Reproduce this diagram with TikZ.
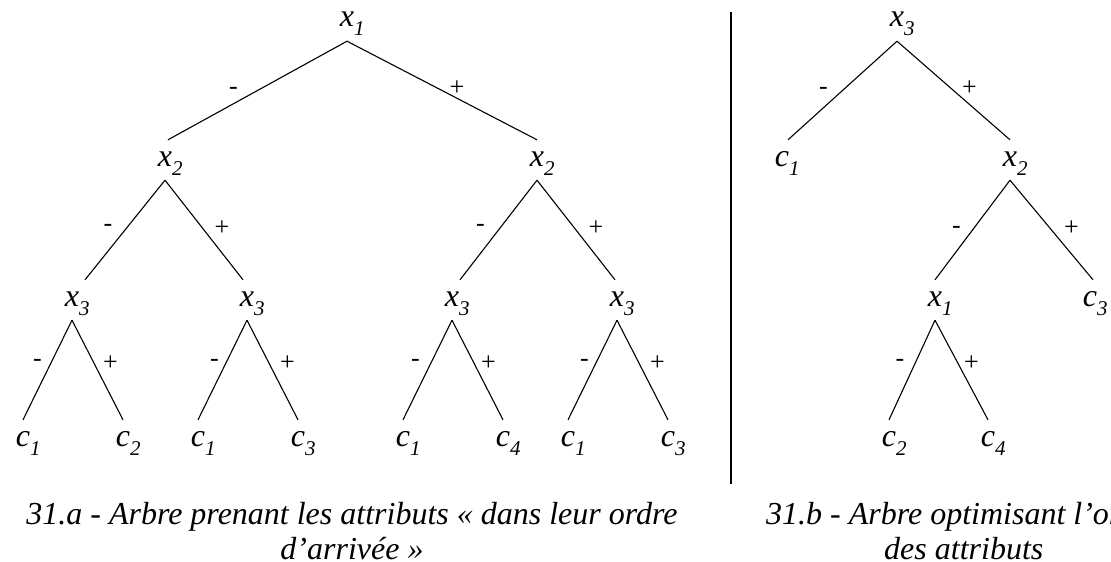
\documentclass[tikz,border=0pt]{standalone}
\usepackage{fontspec}
\setmainfont{Liberation Serif}[ItalicFont={Liberation Serif Italic}]
\newcommand{\lbl}[2]{#1\rlap{\smash{\raisebox{-9pt}{\fontsize{21}{21}\selectfont #2}}}}
\newcommand{\capA}{\vtop{\baselineskip=35pt\lineskiplimit=-100pt\halign{\hfil##\hfil\cr
  31.a - Arbre prenant les attributs « dans leur ordre\cr d’arrivée »\cr}}}
\newcommand{\capB}{\vtop{\baselineskip=35pt\lineskiplimit=-100pt\halign{##\hfil\cr
  31.b - Arbre optimisant l’or\cr \hskip118pt des attributs\cr}}}
\begin{document}
\begin{tikzpicture}[x=1pt,y=-1pt,
  tn/.style={font=\fontsize{32}{32}\selectfont\itshape, inner xsep=0pt, inner ysep=14pt,
             text height=12pt, text depth=0pt, anchor=base},
  ed/.style={line width=1.1pt},
  lab/.style 2 args={midway, font=\fontsize{26}{26}\selectfont, inner sep=0pt, xshift=#1pt, yshift=#2pt},
  captxt/.style={font=\fontsize{32}{35}\selectfont\itshape, inner sep=0pt},
  sepline/.style={line width=2pt}]
\fill[white] (0,0) rectangle (1111,562);
\useasboundingbox (0,0) rectangle (1111,562);

% left tree
\node[tn] (L1)  at (347,27)  {\lbl{x}{1}};
\node[tn] (L2a) at (165,166) {\lbl{x}{2}};
\node[tn] (L2b) at (537,166) {\lbl{x}{2}};
\node[tn] (L3a) at (72,306)  {\lbl{x}{3}};
\node[tn] (L3b) at (247,306) {\lbl{x}{3}};
\node[tn] (L3c) at (452,306) {\lbl{x}{3}};
\node[tn] (L3d) at (617,306) {\lbl{x}{3}};
\node[tn] (La1) at (23,446)  {\lbl{c}{1}};
\node[tn] (La2) at (123,446) {\lbl{c}{2}};
\node[tn] (Lb1) at (198,446) {\lbl{c}{1}};
\node[tn] (Lb2) at (298,446) {\lbl{c}{3}};
\node[tn] (Lc1) at (403,446) {\lbl{c}{1}};
\node[tn] (Lc2) at (503,446) {\lbl{c}{4}};
\node[tn] (Ld1) at (568,446) {\lbl{c}{1}};
\node[tn] (Ld2) at (668,446) {\lbl{c}{3}};

\draw[ed] (L1.south) -- node[lab={-24}{0}]{-} ([xshift=3pt]L2a.north);
\draw[ed] (L1.south) -- node[lab={15}{2}]{+} (L2b.north);
\draw[ed] (L2a.south) -- node[lab={-17}{2}]{-} ([xshift=13pt]L3a.north);
\draw[ed] (L2a.south) -- node[lab={18}{2}]{+} ([xshift=-4pt]L3b.north);
\draw[ed] (L2b.south) -- node[lab={-18}{2}]{-} ([xshift=8pt]L3c.north);
\draw[ed] (L2b.south) -- node[lab={20}{2}]{+} ([xshift=-2pt]L3d.north);
\draw[ed] (L3a.south) -- node[lab={-10}{7}]{-} (La1.north);
\draw[ed] (L3a.south) -- node[lab={13}{7}]{+} (La2.north);
\draw[ed] (L3b.south) -- node[lab={-8}{7}]{-} (Lb1.north);
\draw[ed] (L3b.south) -- node[lab={15}{7}]{+} (Lb2.north);
\draw[ed] (L3c.south) -- node[lab={-12}{7}]{-} (Lc1.north);
\draw[ed] (L3c.south) -- node[lab={11}{7}]{+} (Lc2.north);
\draw[ed] (L3d.south) -- node[lab={-8}{7}]{-} (Ld1.north);
\draw[ed] (L3d.south) -- node[lab={15}{7}]{+} (Ld2.north);

% separator
\coordinate (sepT) at (731,12);
\coordinate (sepB) at (731,484);
\draw[sepline] (sepT) -- (sepB);

% right tree
\node[tn] (R1)  at (897,27)   {\lbl{x}{3}};
\node[tn] (R2a) at (782,166)  {\lbl{c}{1}};
\node[tn] (R2b) at (1010,166) {\lbl{x}{2}};
\node[tn] (R3a) at (935,306)  {\lbl{x}{1}};
\node[tn] (R3b) at (1090,306) {\lbl{c}{3}};
\node[tn] (R4a) at (889,446)  {\lbl{c}{2}};
\node[tn] (R4b) at (988,446)  {\lbl{c}{4}};

\draw[ed] (R1.south) -- node[lab={-19}{0}]{-} ([xshift=6pt]R2a.north);
\draw[ed] (R1.south) -- node[lab={16}{2}]{+} (R2b.north);
\draw[ed] (R2b.south) -- node[lab={-16}{0}]{-} (R3a.north);
\draw[ed] (R2b.south) -- node[lab={20}{2}]{+} ([xshift=3pt]R3b.north);
\draw[ed] (R3a.south) -- node[lab={-12}{7}]{-} (R4a.north);
\draw[ed] (R3a.south) -- node[lab={10}{7}]{+} (R4b.north);

% captions
\node[captxt, anchor=base] (capa) at (352,524) {\capA};
\node[captxt, anchor=base west] (capb) at (766,524) {\capB};
\end{tikzpicture}
\end{document}
